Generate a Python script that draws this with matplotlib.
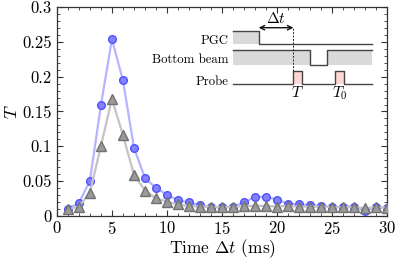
import matplotlib
matplotlib.use("Agg")
import matplotlib.pyplot as plt
from matplotlib.patches import Rectangle
from matplotlib.ticker import MultipleLocator

plt.rcParams["font.family"] = "serif"
plt.rcParams["font.serif"] = ["cmr10", "DejaVu Serif"]
plt.rcParams["mathtext.fontset"] = "cm"
plt.rcParams["axes.formatter.use_mathtext"] = True

# delay between PGC end and probe pulse (ms)
delay = list(range(1, 31))
# transmission, blue circles
trans_a = [0.010, 0.018, 0.050, 0.159, 0.254, 0.195, 0.098, 0.054, 0.040, 0.030,
           0.022, 0.019, 0.015, 0.012, 0.012, 0.013, 0.019, 0.027, 0.027, 0.023,
           0.017, 0.016, 0.015, 0.014, 0.012, 0.013, 0.013, 0.007, 0.012, 0.011]
# transmission, grey triangles
trans_b = [0.009, 0.013, 0.033, 0.100, 0.168, 0.116, 0.059, 0.036, 0.025, 0.020,
           0.016, 0.014, 0.013, 0.013, 0.012, 0.012, 0.014, 0.014, 0.014, 0.013,
           0.014, 0.013, 0.013, 0.013, 0.012, 0.012, 0.012, 0.011, 0.012, 0.011]

yticks = [0, 0.05, 0.1, 0.15, 0.2, 0.25, 0.3]
ytick_labels = ["0", "0.05", "0.1", "0.15", "0.2", "0.25", "0.3"]
xticks = [0, 5, 10, 15, 20, 25, 30]

fig = plt.figure(figsize=(4.15, 2.61), dpi=100)
ax = fig.add_axes([0.137, 0.174, 0.796, 0.798])

ax.plot(delay, trans_a, "-o", color="#b4b4ff", lw=1.6, ms=5.5,
        mfc="#8282ff", mec="#5050ff", mew=1.0, zorder=3)
ax.plot(delay, trans_b, "-^", color="#c4c4c4", lw=1.6, ms=6.5,
        mfc="#9a9a9a", mec="#707070", mew=1.0, zorder=3)

ax.set_xlim(0, 30)
ax.set_ylim(0, 0.3)
ax.set_xticks(xticks)
ax.set_yticks(yticks, ytick_labels)
ax.xaxis.set_minor_locator(MultipleLocator(1))
ax.yaxis.set_minor_locator(MultipleLocator(0.01))
ax.tick_params(which="both", direction="in", top=True, right=True,
               labelsize=12, color="#333333")
ax.tick_params(which="major", length=4, width=0.8)
ax.tick_params(which="minor", length=2, width=0.6)
for s in ax.spines.values():
    s.set_color("#333333")
    s.set_linewidth(0.9)

ax.set_xlabel(r"Time $\Delta t$ (ms)", fontsize=12.5, labelpad=0)
ax.set_ylabel(r"$T$", fontsize=13, labelpad=2)

# timing diagram inset (axes fraction coordinates)
tr = ax.transAxes
edge = "#444444"
fill = "#d9d9d9"
x0, x1 = 0.534, 0.954

# PGC
ax.add_patch(Rectangle((x0, 0.822), 0.611 - x0, 0.886 - 0.822, transform=tr,
                       facecolor=fill, edgecolor="none", zorder=4))
ax.plot([x0, 0.611, 0.611, x1], [0.886, 0.886, 0.822, 0.822],
        color=edge, lw=1.0, transform=tr, zorder=5)

# bottom beam
ax.add_patch(Rectangle((x0, 0.723), 0.765 - x0, 0.794 - 0.723, transform=tr,
                       facecolor=fill, edgecolor="none", zorder=4))
ax.add_patch(Rectangle((0.817, 0.723), x1 - 0.817, 0.794 - 0.723, transform=tr,
                       facecolor=fill, edgecolor="none", zorder=4))
ax.plot([x0, 0.765, 0.765, 0.817, 0.817, x1],
        [0.794, 0.794, 0.723, 0.723, 0.794, 0.794],
        color=edge, lw=1.0, transform=tr, zorder=5)

# probe
for p0, p1 in [(0.716, 0.743), (0.841, 0.868)]:
    ax.add_patch(Rectangle((p0, 0.630), p1 - p0, 0.696 - 0.630, transform=tr,
                           facecolor="#ffd6d6", edgecolor="none", zorder=4))
ax.plot([x0, 0.716, 0.716, 0.743, 0.743, 0.841, 0.841, 0.868, 0.868, x1],
        [0.630, 0.630, 0.696, 0.696, 0.630, 0.630, 0.696, 0.696, 0.630, 0.630],
        color=edge, lw=1.0, transform=tr, zorder=5)

ax.plot([0.716, 0.716], [0.696, 0.905], color="#222222", lw=0.7, ls=(0, (2, 1.5)),
        transform=tr, zorder=5)
ax.annotate("", xy=(0.611, 0.902), xytext=(0.716, 0.902), xycoords=tr,
            arrowprops=dict(arrowstyle="<->", color="#111111", lw=1.0,
                            shrinkA=0, shrinkB=0, mutation_scale=8), zorder=5)
ax.text(0.664, 0.948, r"$\Delta t$", transform=tr, ha="center", va="center",
        fontsize=11)

ax.text(0.52, 0.840, "PGC", transform=tr, ha="right", va="center", fontsize=9.2)
ax.text(0.52, 0.745, "Bottom beam", transform=tr, ha="right", va="center", fontsize=9.2)
ax.text(0.52, 0.643, "Probe", transform=tr, ha="right", va="center", fontsize=9.2)
ax.text(0.728, 0.590, r"$T$", transform=tr, ha="center", va="center", fontsize=11)
ax.text(0.858, 0.586, r"$T_0$", transform=tr, ha="center", va="center", fontsize=11)

fig.savefig("out.png", dpi=100)
